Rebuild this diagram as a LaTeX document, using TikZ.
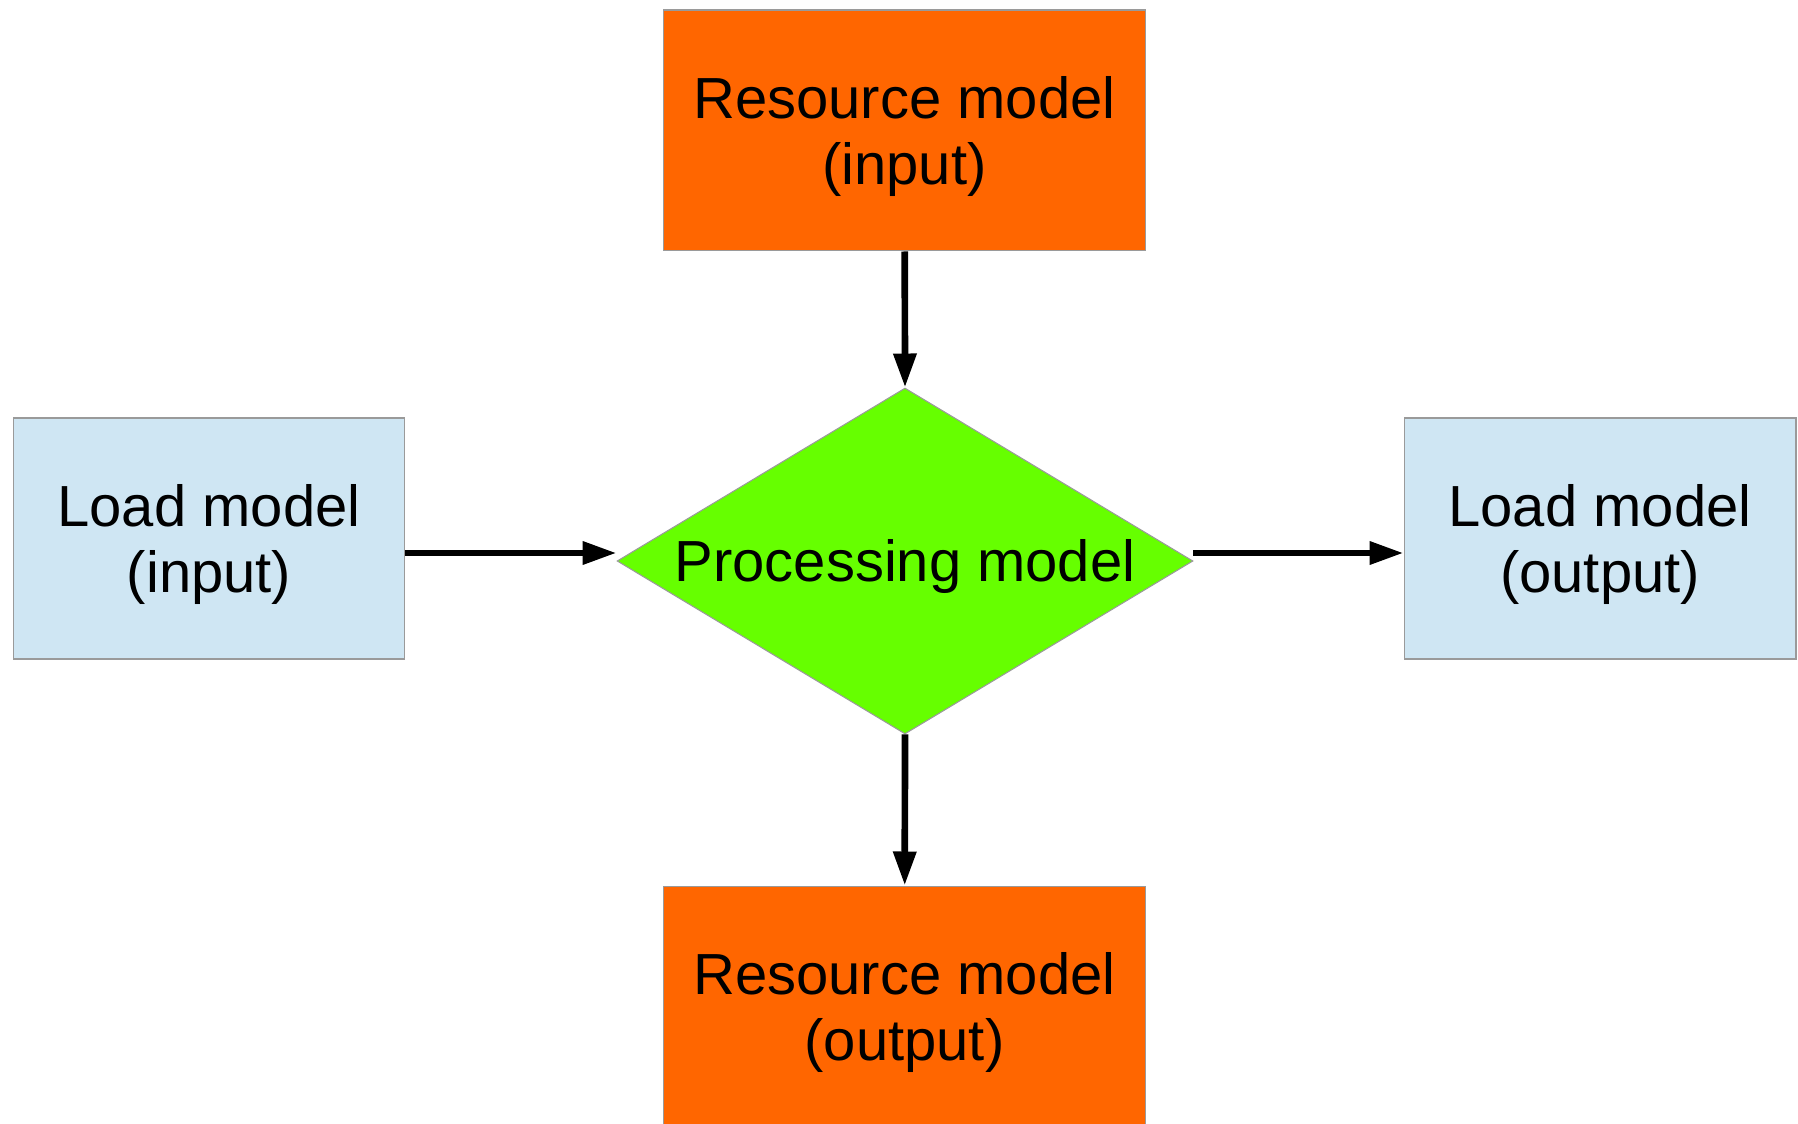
\documentclass[tikz,border=0pt]{standalone}
\usepackage{fontspec}
\setmainfont{Liberation Sans}
\usetikzlibrary{arrows.meta,shapes.geometric}
\definecolor{cRes}{HTML}{FF6600}
\definecolor{cLoad}{HTML}{CFE6F3}
\definecolor{cProc}{HTML}{66FF00}
\definecolor{rim}{HTML}{9A9A9A}
\tikzset{
  resbox/.style={draw=rim,line width=.6pt,fill=cRes,align=center,inner sep=0pt,
              text height=68pt,minimum width=9.66cm,minimum height=4.82cm},
  loadbox/.style={draw=rim,line width=.6pt,fill=cLoad,align=center,inner sep=0pt,
              text height=68pt,minimum width=7.84cm,minimum height=4.82cm},
  procdia/.style={diamond,draw=rim,line width=.6pt,fill=cProc,inner sep=0pt,
              text height=30.6pt,shape aspect=1.665,
              minimum width=11.52cm,minimum height=6.92cm},
  flow/.style={-{Triangle[length=6.8mm,width=4.4mm]},line width=3.8pt,black},
}

\begin{document}
\begin{tikzpicture}[x=0.02cm,y=-0.02cm,
    every node/.style={font=\fontsize{33}{37.5}\selectfont}]
  \useasboundingbox (0,0) rectangle (1798,1124);
  % resource model in and out, load model on both sides
  \node[resbox] (rin) at (904.5,130.5) {Resource model\\(input)};
  \node[procdia] (pm) at (905,561) {Processing model};
  \node[resbox] (rout) at (904.5,1006.5) {Resource model\\(output)};
  \node[loadbox] (lin) at (209,538.5) {Load model\\(input)};
  \node[loadbox] (lout) at (1600,538.5) {Load model\\(output)};
  % side arrows sit a little above the diamond tips
  \coordinate (inL) at ([yshift=0.16cm]pm.west);
  \coordinate (outR) at ([yshift=0.16cm]pm.east);
  \draw[flow] (rin) -- (pm.north);
  \draw[flow] (pm.south) -- (rout);
  \draw[flow] (lin.east |- inL) -- (inL);
  \draw[flow] (outR) -- (lout.west |- outR);
\end{tikzpicture}
\end{document}
